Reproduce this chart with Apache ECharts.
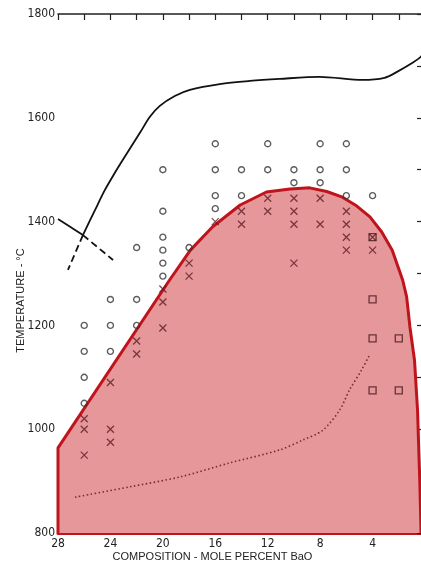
<!DOCTYPE html>
<html>
<head>
<meta charset="utf-8">
<script src="https://cdn.jsdelivr.net/npm/echarts@6/dist/echarts.min.js"></script>
<style>
  html, body { margin: 0; padding: 0; background: #fff; }
  #chart { width: 421px; height: 566px; }
</style>
</head>
<body>
<div id="chart"></div>
<script>
// phase region boundary (mole % BaO, temperature)
var regionBoundary = [
    [28, 800], [28, 964], [19.5, 1287], [17.9, 1345], [16.2, 1390], [14.1, 1432],
    [12.1, 1457], [10.3, 1463], [8.8, 1465], [7.5, 1458], [6.3, 1447], [5.2, 1430],
    [4.2, 1409], [3.3, 1380], [2.5, 1345], [1.7, 1287], [1.4, 1255], [1.15, 1197],
    [0.8, 1133], [0.57, 1037], [0.4, 902], [0.3, 800]
];
// upper liquidus curve
var liquidus = [
    [26.1, 1374], [25.18, 1422], [24.42, 1461], [23.66, 1494], [23.05, 1519],
    [21.75, 1571], [20.99, 1602], [20.23, 1623], [19.09, 1642], [17.94, 1654],
    [15.66, 1665], [13.37, 1671], [11.09, 1675], [8.04, 1679], [4.76, 1673],
    [3.09, 1677], [2.17, 1688], [0.95, 1706], [0.34, 1717], [0, 1727]
];
var liquidusDashed = [[26.1, 1374], [27.24, 1307]];
var leftLine = [[28, 1405], [26.1, 1374]];
var leftLineDashed = [[26.1, 1374], [23.8, 1326]];
var dottedCurve = [
    [26.7, 869], [22.5, 889], [18.7, 908], [14.9, 935], [11.1, 960], [9.33, 979],
    [7.8, 998], [6.51, 1037], [5.75, 1076], [4.84, 1114], [4.23, 1143]
];
// observations
var circles = [
    [26, 1200], [26, 1150], [26, 1100], [26, 1050],
    [24, 1250], [24, 1200], [24, 1150],
    [22, 1350], [22, 1250], [22, 1200],
    [20, 1500], [20, 1420], [20, 1370], [20, 1345], [20, 1320], [20, 1295],
    [18, 1350],
    [16, 1550], [16, 1500], [16, 1450], [16, 1425],
    [14, 1500], [14, 1450],
    [12, 1550], [12, 1500],
    [10, 1500], [10, 1475],
    [8, 1550], [8, 1500], [8, 1475],
    [6, 1550], [6, 1500], [6, 1450],
    [4, 1450]
];
var crosses = [
    [26, 1020], [26, 1000], [26, 950],
    [24, 1090], [24, 1000], [24, 975],
    [22, 1170], [22, 1145],
    [20, 1270], [20, 1245], [20, 1195],
    [18, 1320], [18, 1295],
    [16, 1400],
    [14, 1420], [14, 1395],
    [12, 1445], [12, 1420],
    [10, 1445], [10, 1420], [10, 1395], [10, 1320],
    [8, 1445], [8, 1395],
    [6, 1420], [6, 1395], [6, 1370], [6, 1345],
    [4, 1370], [4, 1345]
];
var squares = [[4, 1370], [4, 1250], [4, 1175], [2, 1175], [4, 1075], [2, 1075]];

function DrawDiagram() {
    var chart = echarts.init(document.getElementById('chart'));
    var font = '"Liberation Sans Narrow", "DejaVu Sans Condensed", "Liberation Sans", sans-serif';
    var nameFont = '"Liberation Sans", Arial, sans-serif';
    var tickStyle = { color: '#222', width: 1.2 };

    var option = {
        backgroundColor: '#fff',
        animation: false,
        grid: { left: 58, right: -4, top: 14, bottom: 33, outerBoundsMode: 'none', containLabel: false },
        xAxis: [
            {
                type: 'value', min: 0, max: 28, interval: 2, inverse: true,
                name: 'COMPOSITION - MOLE PERCENT BaO',
                nameLocation: 'middle', nameGap: 18, nameMoveOverlap: false,
                nameTextStyle: { fontFamily: nameFont, fontSize: 11, color: '#222', padding: [0, 58, 0, 0] },
                axisLine: { lineStyle: { color: '#c0141c', width: 3 } },
                axisTick: { inside: true, length: 9, lineStyle: tickStyle },
                axisLabel: {
                    margin: 5, fontFamily: font, fontSize: 12, color: '#222',
                    formatter: function (v) { return v % 4 === 0 ? v : ''; }
                },
                splitLine: { show: false }
            },
            {
                type: 'value', min: 0, max: 28, interval: 2, inverse: true, position: 'top',
                axisLine: { lineStyle: { color: '#222', width: 1.5 } },
                axisTick: { inside: true, length: 6, lineStyle: tickStyle },
                axisLabel: { show: false },
                splitLine: { show: false }
            }
        ],
        yAxis: [
            {
                type: 'value', min: 800, max: 1800, interval: 100,
                name: 'TEMPERATURE - °C',
                nameLocation: 'middle', nameGap: 32, nameMoveOverlap: false,
                nameTextStyle: { fontFamily: nameFont, fontSize: 11, color: '#222', padding: [0, 54, 0, 0] },
                axisLine: { lineStyle: { color: '#222', width: 1.5 } },
                axisTick: { inside: true, length: 9, lineStyle: tickStyle },
                axisLabel: {
                    margin: 3, fontFamily: font, fontSize: 12, color: '#222',
                    formatter: function (v) { return v % 200 === 0 ? v : ''; }
                },
                splitLine: { show: false }
            },
            {
                type: 'value', min: 800, max: 1800, interval: 100, position: 'right',
                axisLine: { lineStyle: { color: '#222', width: 1.5 } },
                axisTick: { inside: true, length: 8, lineStyle: tickStyle },
                axisLabel: { show: false },
                splitLine: { show: false }
            }
        ],
        series: [
            {
                // shaded phase region
                type: 'line', data: regionBoundary, symbol: 'none', z: 2,
                lineStyle: { color: '#c0141c', width: 3 },
                areaStyle: { color: '#e6979a', opacity: 1, origin: 'start' }
            },
            {
                type: 'line', data: liquidus, symbol: 'none', smooth: 0.3, z: 3,
                lineStyle: { color: '#111', width: 1.8 }
            },
            {
                type: 'line', data: liquidusDashed, symbol: 'none', z: 3,
                lineStyle: { color: '#111', width: 1.8, type: [7, 4] }
            },
            {
                type: 'line', data: leftLine, symbol: 'none', z: 3,
                lineStyle: { color: '#111', width: 1.8 }
            },
            {
                type: 'line', data: leftLineDashed, symbol: 'none', z: 3,
                lineStyle: { color: '#111', width: 1.8, type: [7, 4] }
            },
            {
                type: 'line', data: dottedCurve, symbol: 'none', smooth: 0.3, z: 3,
                lineStyle: { color: '#7a2a30', width: 1.6, type: [1.5, 2.5] }
            },
            {
                type: 'scatter', data: circles, symbol: 'circle', symbolSize: 6, z: 4,
                itemStyle: { color: 'rgba(0,0,0,0)', borderColor: '#333', borderWidth: 1.4 }
            },
            {
                type: 'scatter', data: crosses, symbol: 'path://M0,0L10,10M10,0L0,10', symbolSize: 7, z: 4,
                itemStyle: { color: 'rgba(0,0,0,0)', borderColor: '#5e1e24', borderWidth: 1.3 }
            },
            {
                type: 'scatter', data: squares, symbol: 'rect', symbolSize: 7, z: 4,
                itemStyle: { color: 'rgba(0,0,0,0)', borderColor: '#4a1a1e', borderWidth: 1.3 }
            }
        ]
    };
    chart.setOption(option);
};

DrawDiagram();
</script>
</body>
</html>
